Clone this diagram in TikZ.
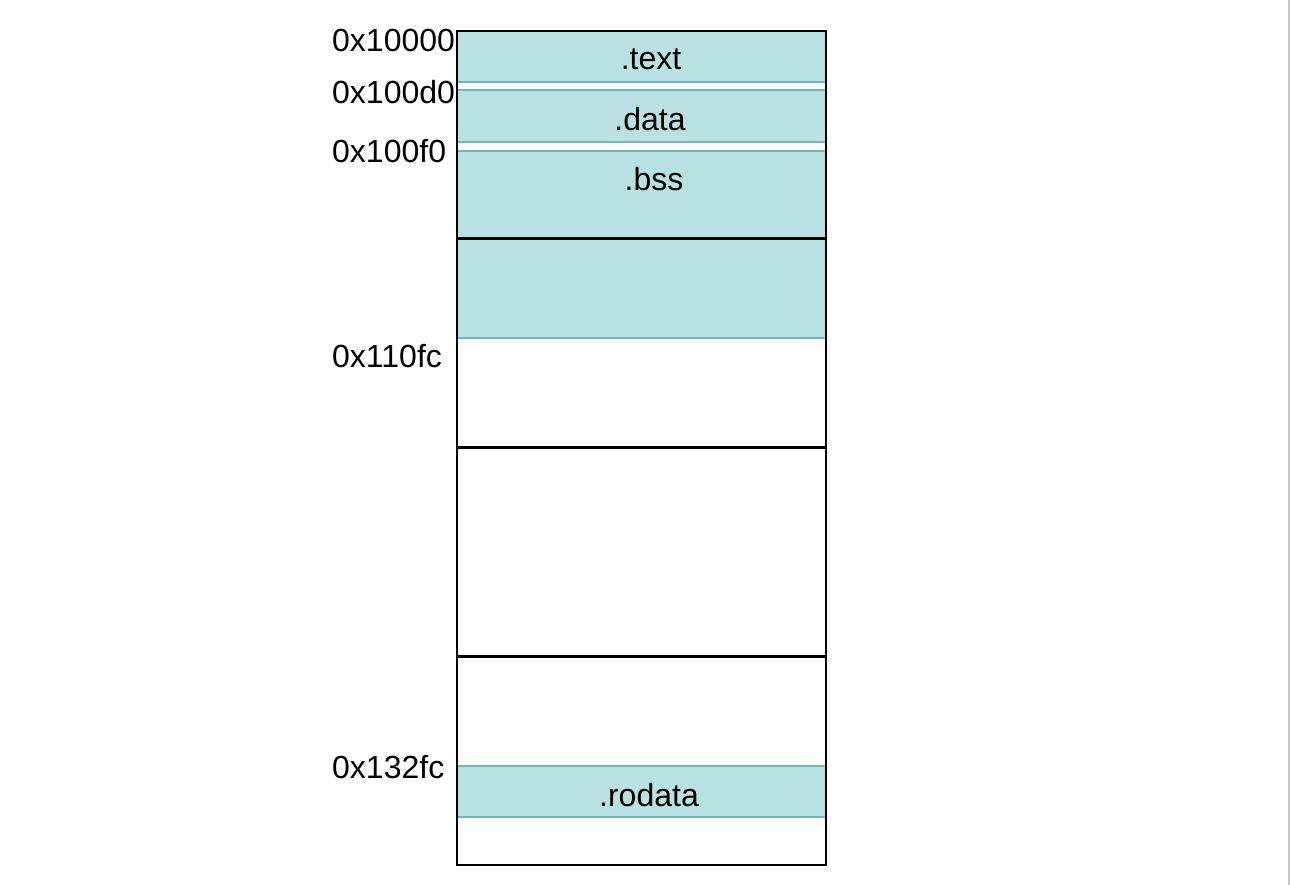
\documentclass[tikz,border=0pt]{standalone}
\usepackage{fontspec}
\setmainfont{Liberation Sans}
\usepackage{tikz}
\definecolor{secfill}{RGB}{185,224,227}
\definecolor{secline}{RGB}{111,183,188}

\begin{document}
\begin{tikzpicture}[x=1pt,y=-1pt,
    addr/.style={anchor=base west,inner sep=0pt,font=\fontsize{32}{38}\selectfont},
    secname/.style={anchor=base,inner sep=0pt,font=\fontsize{32}{38}\selectfont},
    band/.style={fill=secfill,draw=secline,line width=1.8pt}]

\useasboundingbox (0,0) rectangle (1290,885);
\draw[black!22,line width=1.6pt] (1289,0)--(1289,885);

% sections
\draw[band] (457,31) rectangle (826,82);
\draw[band] (457,90) rectangle (826,142);
\draw[band] (457,151) rectangle (826,338);
\draw[band] (457,766) rectangle (826,817);

% memory column
\draw[line width=2.2pt] (457,31) rectangle (826,865);
\draw[line width=2.2pt] (457,238.5)--(826,238.5);
\draw[line width=2.2pt] (457,447.5)--(826,447.5);
\draw[line width=2.2pt] (457,656.5)--(826,656.5);

\node[secname] (text) at (651,70) {.text};
\node[secname] (data) at (650,131) {.data};
\node[secname] (bss) at (654,191) {.bss};
\node[secname] (rodata) at (649,806) {.rodata};

\node[addr] (a10000) at (332,52) {0x10000};
\node[addr] (a100d0) at (332,104) {0x100d0};
\node[addr] (a100f0) at (332,163) {0x100f0};
\node[addr] (a110fc) at (332,367) {0x110fc};
\node[addr] (a132fc) at (332,778) {0x132fc};
\end{tikzpicture}
\end{document}
